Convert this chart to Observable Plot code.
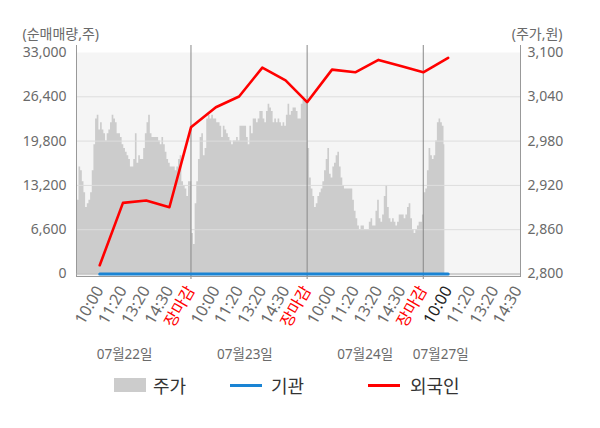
<!DOCTYPE html>
<html><head><meta charset="utf-8">
<script src="https://cdn.jsdelivr.net/npm/d3@7"></script>
<script src="https://cdn.jsdelivr.net/npm/@observablehq/plot@0.6"></script>
<style>
body{margin:0;background:#fff;font-family:"Noto Sans","Noto Sans CJK KR",sans-serif;}
#wrap{position:relative;width:600px;height:428px;overflow:hidden;}
#wrap svg{position:absolute;left:0;top:0;}
.lg{position:absolute;font-size:18px;color:#333;line-height:20px;white-space:nowrap;font-family:"Noto Sans CJK KR","Noto Sans",sans-serif;}
.sw{position:absolute;}
</style></head><body><div id="wrap"></div>
<script>
// ---- data ----
const dateLabels = ["07월22일", "07월23일", "07월24일", "07월27일"];
const dateLabelX = [29, 101.5, 174, 219.5];
const timeLabels = ["10:00", "11:20", "13:20", "14:30", "장마감"];
const dayStart = [0, 70, 140, 210];
const tickOffset = [14, 28, 42, 56, 69];
const dayBreaks = [69, 139, 209];
const xMax = 267.6;

const leftTicks = [0, 6600, 13200, 19800, 26400, 33000];
const priceMin = 2800, priceMax = 3100;

// 외국인 / 기관 net volume at each labelled time (day1..day3 full, day4 10:00)
const foreignNet = [1300, 10600, 10950, 9950, 21850, 24850, 26450, 30750, 28850, 25600, 30450, 30050, 31900, 30950, 30050, 32200];
const instNet = [0, 0, 0, 0, 0, 0, 0, 0, 0, 0, 0, 0, 0, 0, 0, 0];

// 주가 (price) samples per day
const priceDay1 = [2850,2900,2945,2940,2925,2910,2890,2895,2900,2910,
 2940,2975,3010,3015,2995,3005,2995,2990,2980,2990,
 2995,3005,3015,3010,3005,2990,2990,2985,2975,2970,
 2965,2960,2955,2945,2945,2955,2990,2950,2960,2955,
 2955,2970,2990,3005,3015,2990,2985,2985,2985,2985,
 2980,2975,2985,2975,2965,2955,2950,2945,2945,2945,
 2940,2945,2955,2960,2925,2920,2915,2905,2925,2925];
const priceDay2 = [2855,2840,2895,2925,2955,2985,2990,2960,2970,3010,
 3015,3010,3015,3010,3010,3005,3005,3000,2985,3000,
 2995,2990,2985,2980,2975,2980,2980,2985,2980,3000,
 3000,3000,3000,2985,2975,3000,2990,3010,3010,3005,
 3010,3020,3020,3010,3005,3020,3030,3025,3020,3005,
 3010,3005,3010,3005,3000,3005,3000,3015,3030,3015,
 3020,3025,3025,3020,3010,3010,3030,3035,3035,3035];
const priceDay3 = [2970,2930,2915,2905,2890,2895,2905,2910,2915,2925,
 2940,2955,2970,2935,2930,2945,2950,2960,2965,2945,
 2930,2920,2915,2915,2915,2915,2915,2900,2885,2875,
 2865,2860,2865,2865,2860,2860,2860,2870,2875,2865,
 2865,2885,2900,2875,2870,2880,2905,2920,2890,2875,
 2870,2875,2870,2865,2870,2880,2880,2880,2875,2880,
 2890,2895,2875,2860,2855,2860,2865,2870,2870,2880];
const priceDay4 = [2910,2915,2940,2970,2960,2955,2960,2980,3005,3010,3005,3000,2975];

// ---- build tables ----
const ratio = 33000 / (priceMax - priceMin);
const prices = [...priceDay1, ...priceDay2, ...priceDay3, ...priceDay4];
const priceRows = prices.map((p, i) => ({i, v: (p - priceMin) * ratio}));

const tickRows = [];
dayStart.forEach((s, d) => {
  const n = d === 3 ? 4 : 5;
  for (let j = 0; j < n; j++) {
    const label = timeLabels[j];
    const close = label === "장마감";
    const color = close ? "#ff0000" : (d === 3 && j === 0 ? "#222222" : "#6a6a6a");
    tickRows.push({x: s + tickOffset[j], label, color, close});
  }
});
const lineX = tickRows.slice(0, foreignNet.length).map(t => t.x);
const foreignRows = foreignNet.map((v, k) => ({x: lineX[k], v}));
const instRows = instNet.map((v, k) => ({x: lineX[k], v}));
const dateRows = dateLabels.map((t, k) => ({x: dateLabelX[k], t}));

const font = '"Noto Sans","Noto Sans CJK KR",sans-serif';
const tickOpts = {x: "x", text: "label", fill: "color", frameAnchor: "bottom", lineAnchor: "middle", rotate: -60, textAnchor: "end", dy: 11};
const chart = Plot.plot({
  width: 600, height: 370,
  marginLeft: 76, marginRight: 80, marginTop: 45, marginBottom: 94,
  x: {domain: [0, xMax], axis: null},
  y: {domain: [0, 33000], insetTop: 7, insetBottom: 2.5},
  color: {type: "identity"},
  style: {fontFamily: font, fontSize: "14px", color: "#6a6a6a", background: "transparent", overflow: "visible"},
  marks: [
    Plot.frame({fill: "#f5f5f5", insetTop: 7}),
    Plot.areaY(priceRows, {x: "i", y: "v", fill: "#cccccc", curve: "step"}),
    Plot.ruleY(leftTicks.filter(t => t > 0 && t < 33000), {stroke: "#dddddd", strokeWidth: 1}),
    Plot.ruleX(dayBreaks, {stroke: "#888", strokeWidth: 1, insetBottom: -3}),
    Plot.ruleX([0, xMax], {stroke: "#999", strokeWidth: 1, insetBottom: -1}),
    Plot.frame({anchor: "bottom", stroke: "#999"}),
    Plot.ruleY([0], {stroke: "#aaa", strokeWidth: 1}),
    Plot.line(instRows, {x: "x", y: "v", stroke: "#1a84d4", strokeWidth: 3}),
    Plot.line(foreignRows, {x: "x", y: "v", stroke: "#ff0000", strokeWidth: 2.6}),
    Plot.axisY({anchor: "left", ticks: leftTicks, tickSize: 0, tickPadding: 10, tickFormat: d3.format(","), label: null, fontSize: 14}),
    Plot.axisY({anchor: "right", ticks: leftTicks, tickSize: 0, tickPadding: 7, label: null, fontSize: 14,
      tickFormat: v => d3.format(",")(Math.round(priceMin + v / ratio))}),
    Plot.text(tickRows.filter(t => !t.close), {...tickOpts, fontSize: 16}),
    Plot.text(tickRows.filter(t => t.close), {...tickOpts, fontSize: 16, fontFamily: '"Noto Sans CJK KR",sans-serif'}),
    Plot.text(dateRows, {x: "x", text: "t", frameAnchor: "bottom", lineAnchor: "middle", dy: 78, fill: "#6a6a6a", fontSize: 13.5}),
    Plot.text(["(순매매량,주)"], {text: d => d, frameAnchor: "top-left", lineAnchor: "middle", textAnchor: "start", dx: -54, dy: -11, fill: "#6a6a6a", fontSize: 14}),
    Plot.text(["(주가,원)"], {text: d => d, frameAnchor: "top-right", lineAnchor: "middle", textAnchor: "end", dx: 42, dy: -11, fill: "#6a6a6a", fontSize: 14})
  ]
});
const wrap = document.getElementById("wrap");
wrap.appendChild(chart);

function add(cls, css, text) {
  const e = document.createElement("div");
  e.className = cls;
  e.style.cssText = css;
  if (text) e.textContent = text;
  wrap.appendChild(e);
}
add("sw", "left:114px;top:378px;width:32px;height:14px;background:#cccccc;");
add("lg", "left:153px;top:375px;", "주가");
add("sw", "left:230px;top:384px;width:32px;height:3px;background:#1a84d4;");
add("lg", "left:271px;top:375px;", "기관");
add("sw", "left:368px;top:384px;width:32px;height:3px;background:#ff0000;");
add("lg", "left:410px;top:375px;", "외국인");
</script></body></html>
